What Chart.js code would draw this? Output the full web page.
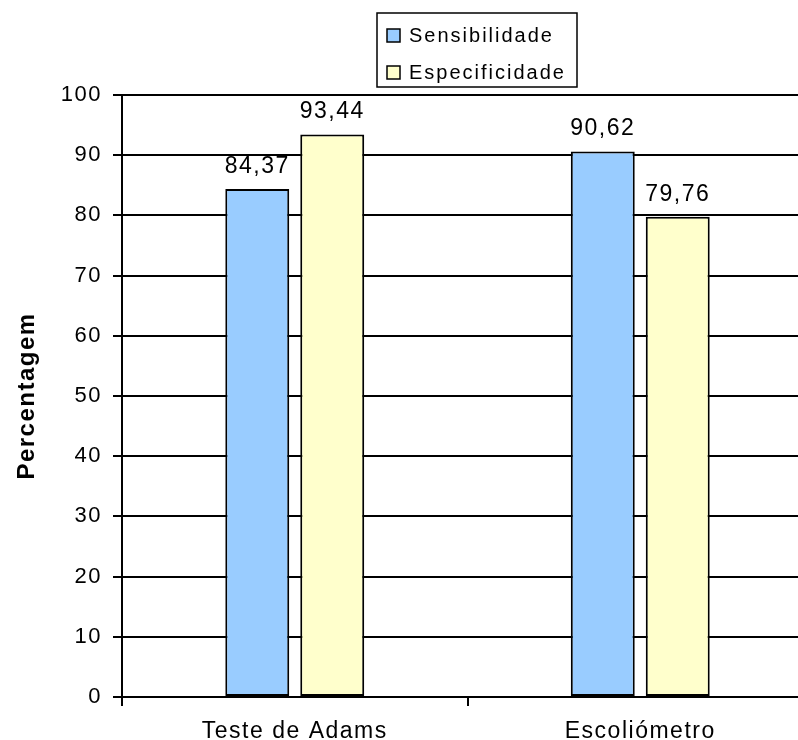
<!DOCTYPE html>
<html>
<head>
<meta charset="utf-8">
<script src="https://cdn.jsdelivr.net/npm/chart.js@4/dist/chart.umd.min.js"></script>
<style>
    html, body { margin: 0; padding: 0; background: #fff; overflow: hidden; }
    #frame { position: relative; width: 798px; height: 740px; overflow: hidden; }
    #chartBox { position: absolute; left: 0; top: 0; width: 816px; height: 757px; }
</style>
</head>
<body>
<div id="frame">
    <div id="chartBox"><canvas id="percentChart"></canvas></div>
</div>
<script>
// categories and series
const categories = ['Teste de Adams', 'Escoliómetro'];
const seriesNames = ['Sensibilidade', 'Especificidade'];
const sensibilidade = [84.37, 90.62];
const especificidade = [93.44, 79.76];
const yTicks = [0, 10, 20, 30, 40, 50, 60, 70, 80, 90, 100];

const blueFill = '#99CCFF';
const yellowFill = '#FFFFCC';

Chart.defaults.font.family = '"Liberation Sans", Arial, sans-serif';
Chart.defaults.color = '#000';

// wider text spacing for everything the chart writes
const spacingPlugin = {
    id: 'spacing',
    beforeUpdate(chart) { chart.ctx.letterSpacing = '1.5px'; },
    beforeDraw(chart) { chart.ctx.letterSpacing = '1.5px'; }
};

// value above each bar, decimal comma
const valueLabels = {
    id: 'valueLabels',
    afterDatasetsDraw(chart) {
        const ctx = chart.ctx;
        ctx.save();
        ctx.font = '23px "Liberation Sans", Arial, sans-serif';
        ctx.fillStyle = '#000';
        ctx.textAlign = 'center';
        ctx.textBaseline = 'alphabetic';
        chart.data.datasets.forEach(function (ds, i) {
            chart.getDatasetMeta(i).data.forEach(function (bar, j) {
                const txt = ds.data[j].toFixed(2).replace('.', ',');
                ctx.fillText(txt, bar.x, bar.y - 16);
            });
        });
        ctx.restore();
    }
};

// boxed legend, one series per row
const boxLegend = {
    id: 'boxLegend',
    afterDraw(chart) {
        const ctx = chart.ctx;
        const left = 377, top = 13, w = 200, h = 74;
        ctx.save();
        ctx.lineWidth = 1.5;
        ctx.strokeStyle = '#000';
        ctx.fillStyle = '#fff';
        ctx.fillRect(left, top, w, h);
        ctx.strokeRect(left, top, w, h);
        ctx.font = '20px "Liberation Sans", Arial, sans-serif';
        ctx.letterSpacing = '2px';
        ctx.textBaseline = 'middle';
        ctx.textAlign = 'left';
        chart.data.datasets.forEach(function (ds, i) {
            const cy = 35 + i * 37;
            ctx.fillStyle = ds.backgroundColor;
            ctx.fillRect(387, cy - 6, 13, 13);
            ctx.lineWidth = 1.5;
            ctx.strokeRect(387, cy - 6, 13, 13);
            ctx.fillStyle = '#000';
            ctx.fillText(ds.label, 409, cy + 1);
        });
        ctx.restore();
    }
};

let ctx = document.getElementById('percentChart').getContext('2d');

window.percentChart = new Chart(ctx, {
    type: 'bar',
    data: {
        labels: categories,
        datasets: [{
            label: seriesNames[0],
            data: sensibilidade,
            backgroundColor: blueFill,
            borderColor: '#000',
            borderWidth: 2,
            borderSkipped: false
        }, {
            label: seriesNames[1],
            data: especificidade,
            backgroundColor: yellowFill,
            borderColor: '#000',
            borderWidth: 2,
            borderSkipped: false
        }]
    },
    options: {
        responsive: true,
        maintainAspectRatio: false,
        animation: false,
        devicePixelRatio: 1,
        categoryPercentage: 0.434,
        barPercentage: 0.853,
        layout: { padding: { top: 95, left: 0, right: 3, bottom: 0 } },
        plugins: {
            legend: { display: false },
            tooltip: { enabled: false }
        },
        scales: {
            y: {
                min: 0,
                max: 100,
                afterBuildTicks: function (scale) {
                    scale.ticks = yTicks.map(function (v) { return { value: v }; });
                },
                grid: { color: '#000', lineWidth: 2, tickLength: 9 },
                border: { color: '#000', width: 2 },
                ticks: { font: { size: 22 }, padding: 11 },
                title: {
                    display: true,
                    text: 'Percentagem',
                    font: { size: 24, weight: 'bold' },
                    padding: { top: 13, bottom: 8 }
                }
            },
            x: {
                grid: { drawOnChartArea: false, color: '#000', lineWidth: 2, tickLength: 9 },
                border: { color: '#000', width: 2 },
                ticks: { font: { size: 23, lineHeight: 1.0 }, padding: 14 }
            }
        }
    },
    plugins: [spacingPlugin, valueLabels, boxLegend]
});
</script>
</body>
</html>
